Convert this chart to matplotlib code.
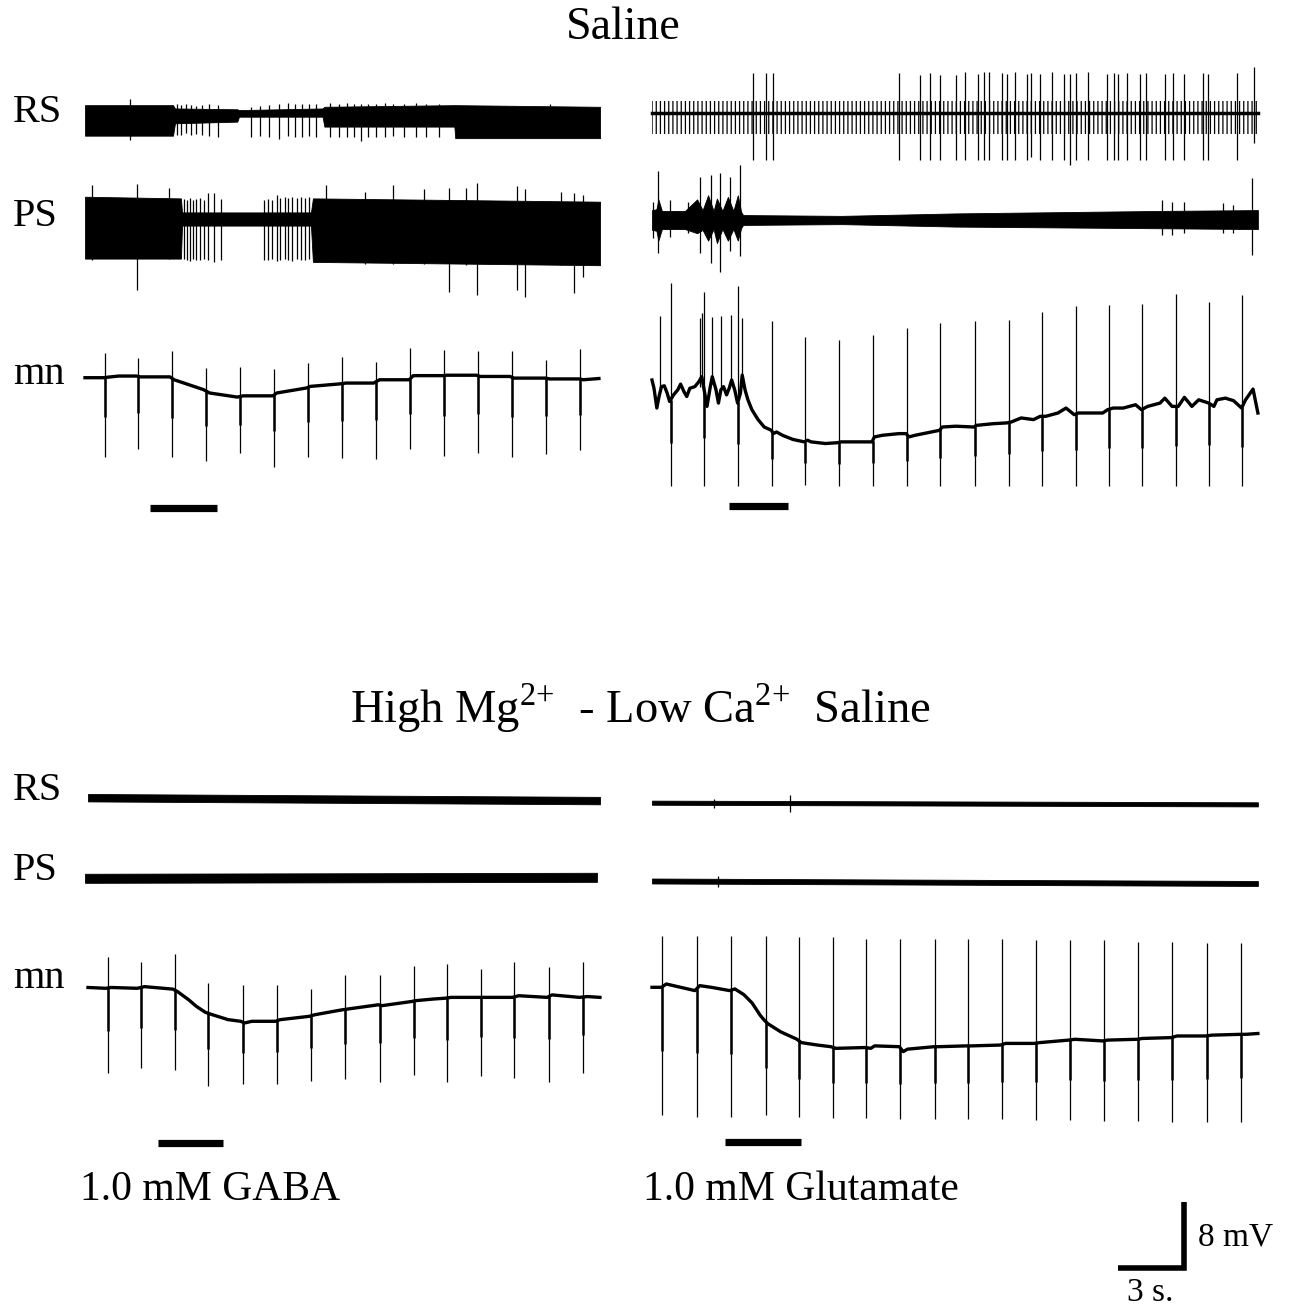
import numpy as np
import matplotlib
matplotlib.use("Agg")
import matplotlib.pyplot as plt

plt.rcParams['font.family'] = ['Liberation Serif', 'DejaVu Serif']
plt.rcParams['mathtext.fontset'] = 'custom'
plt.rcParams['mathtext.rm'] = 'Liberation Serif'
plt.rcParams['hatch.linewidth'] = 0.9

W, H = 1292, 1310
PX_PER_S = 22.0     # 3 s scale bar ~ 66 px
PX_PER_MV = 8.25    # 8 mV scale bar ~ 66 px

# ---------------- Saline, GABA (top left) ----------------
tl_rs_env_t = [0, 4.00, 4.09, 6.92, 7.00, 10.80, 10.88, 16.79, 16.83, 23.41]
tl_rs_env_up = [1.8, 1.8, 1.4, 1.3, 1.2, 1.4, 1.6, 1.8, 1.8, 1.6]
tl_rs_env_lo = [-1.9, -1.9, -0.4, -0.2, 0.4, 0.4, -0.8, -0.8, -2.2, -2.2]
tl_rs_sp_t = [2.06, 4.18, 4.36, 4.59, 4.83, 5.06, 5.33, 5.65, 6.03, 7.53, 7.94, 8.36, 8.82,
              9.24, 9.56, 9.88, 10.18, 10.48, 11.15, 11.54, 11.89, 12.21, 12.53, 12.88, 13.23,
              13.62, 14.01, 14.50, 15.03, 15.52, 16.09, 21.12]
tl_rs_sp_up = [2.5, 2.0, 1.8, 2.0, 1.8, 1.7, 1.8, 1.9, 1.8, 1.6, 1.7, 1.8, 2.0,
               2.1, 2.0, 2.0, 1.9, 2.0, 2.1, 2.0, 2.1, 2.0, 1.9, 2.0, 2.0,
               2.1, 2.0, 2.0, 2.1, 2.0, 2.0, 2.0]
tl_rs_sp_lo = [-2.4, -1.8, -1.8, -1.6, -1.8, -1.7, -1.8, -1.9, -2.0, -2.0, -1.9, -2.1, -2.3,
               -1.9, -2.1, -2.0, -1.9, -2.1, -2.1, -2.0, -2.1, -2.0, -2.6, -2.1, -2.0,
               -2.1, -1.9, -2.1, -2.0, -2.1, -2.0, -1.8]

tl_ps_env_t = [0, 4.36, 4.41, 10.27, 10.36, 23.41]
tl_ps_env_up = [2.7, 2.5, 0.8, 0.8, 2.5, 2.1]
tl_ps_env_lo = [-4.8, -4.8, -0.8, -0.8, -5.2, -5.6]
tl_ps_sp_t = [0.30, 2.36, 3.83, 4.48, 4.62, 4.76, 4.92, 5.06, 5.24, 5.42, 5.59, 5.86, 6.17,
              8.15, 8.33, 8.50, 8.71, 8.86, 9.07, 9.24, 9.42, 9.65, 9.83, 10.00, 10.18,
              10.97, 12.74, 14.01, 15.42, 16.53, 17.32, 17.82, 19.62, 20.01, 21.65, 22.23, 22.62]
tl_ps_sp_up = [4.1, 4.3, 3.7, 2.4, 2.3, 2.5, 2.3, 2.4, 2.5, 2.3, 3.1, 3.2, 2.4,
               2.3, 2.4, 2.3, 2.9, 2.5, 2.7, 2.6, 2.7, 2.5, 2.7, 2.6, 2.7,
               4.1, 3.3, 4.1, 3.6, 3.7, 3.7, 4.4, 4.0, 3.6, 3.3, 3.1, 2.9]
tl_ps_sp_lo = [-5.0, -8.6, -4.9, -4.9, -5.0, -5.1, -4.9, -5.0, -5.0, -4.9, -5.0, -5.2, -5.0,
               -5.0, -5.0, -4.9, -5.1, -5.0, -4.9, -5.0, -5.1, -4.9, -5.0, -5.0, -4.9,
               -5.2, -5.4, -5.5, -5.5, -8.8, -5.6, -9.2, -8.6, -9.4, -5.6, -9.0, -7.0]

tl_mn_base_t = [0, 0.81, 1.53, 2.34, 2.52, 3.86, 4.05, 5.39, 5.66, 6.92, 7.19, 8.54, 8.72,
                10.06, 10.25, 11.59, 11.86, 13.12, 13.39, 14.74, 14.92, 16.26, 16.45, 17.79,
                17.97, 19.32, 19.50, 20.94, 21.12, 22.47, 22.65, 23.36]
tl_mn_base_v = [0.0, 0.0, 0.2, 0.2, 0.1, 0.1, -0.25, -1.45, -1.85, -2.35, -2.2, -2.2, -1.85,
                -1.25, -1.05, -0.75, -0.65, -0.65, -0.25, -0.25, 0.25, 0.25, 0.3, 0.3,
                0.15, 0.15, -0.05, -0.05, -0.15, -0.15, -0.25, -0.1]
tl_mn_sp_t = [0.90, 2.43, 3.95, 5.50, 7.05, 8.59, 10.12, 11.68, 13.23, 14.79, 16.32, 17.86,
              19.41, 20.95, 22.50]
tl_mn_sp_top = [3.0, 2.4, 3.2, 1.2, 1.3, 1.0, 1.8, 2.5, 1.9, 3.6, 3.3, 3.2, 3.2, 2.1, 3.5]
tl_mn_sp_bot = [-9.6, -8.7, -9.6, -10.1, -9.1, -10.8, -9.6, -9.7, -9.8, -8.6, -9.5, -9.1,
                -9.6, -9.2, -8.8]
tl_stim = (2.96, 6.00)

# ---------------- Saline, glutamate (top right) ----------------
tr_rs_env_t = [0, 27.54]
tr_rs_env_up = [1.5, 1.5]
tr_rs_env_lo = [-2.5, -2.5]
tr_rs_sp_t = [4.60, 5.16, 5.51, 11.22, 12.18, 12.65, 13.07, 13.82, 14.22, 14.84, 15.11, 15.30,
              15.89, 16.13, 16.50, 17.06, 17.21, 17.62, 18.17, 18.73, 19.01, 19.29, 19.84,
              20.68, 21.01, 21.20, 21.60, 22.16, 22.44, 23.31, 23.68, 24.16, 25.04, 25.28,
              26.61, 27.35]
tr_rs_sp_up = [4.9, 4.9, 4.9, 4.9, 4.7, 4.9, 4.7, 4.7, 5.0, 4.8, 5.0, 5.0,
               4.9, 4.8, 5.0, 4.8, 4.9, 4.8, 5.0, 4.8, 4.8, 4.9, 5.0,
               4.8, 4.9, 4.8, 4.9, 4.8, 4.9, 4.8, 4.9, 4.8, 4.9, 4.8,
               4.9, 5.6]
tr_rs_sp_lo = [-5.7, -5.7, -5.7, -5.7, -5.7, -5.7, -5.7, -5.7, -5.7, -5.7, -5.7, -5.7,
               -5.7, -5.7, -5.7, -5.7, -5.3, -5.7, -5.7, -5.7, -6.3, -5.7, -5.7,
               -5.7, -5.7, -5.7, -5.7, -5.7, -5.7, -5.7, -5.7, -5.7, -5.7, -5.7,
               -5.7, -3.6]

tr_ps_env_t = [0, 0.20, 0.29, 0.45, 1.50, 2.05, 2.30, 2.55, 2.80, 2.95, 3.20, 3.45, 3.70,
               3.90, 4.05, 4.14, 8.62, 13.82, 23.09, 27.54]
tr_ps_env_up = [1.2, 1.3, 2.5, 1.1, 1.1, 2.5, 1.2, 3.0, 1.1, 2.6, 1.1, 2.8, 1.1,
                3.0, 1.0, 0.6, 0.5, 0.8, 1.1, 1.2]
tr_ps_env_lo = [-1.2, -1.3, -2.5, -1.1, -1.1, -1.6, -1.2, -2.5, -1.1, -2.8, -1.1, -2.5, -1.1,
                -2.5, -1.0, -0.6, -0.5, -0.8, -1.0, -1.1]
tr_ps_sp_t = [0.05, 0.29, 0.82, 1.65, 2.18, 2.67, 3.09, 3.55, 4.00, 23.18, 23.64, 24.16,
              25.96, 26.43, 27.26]
tr_ps_sp_up = [2.2, 5.9, 2.4, 2.2, 5.2, 5.5, 5.7, 5.2, 6.7, 2.4, 2.2, 2.2, 2.1, 1.8, 5.1]
tr_ps_sp_lo = [-2.2, -4.0, -2.0, -1.6, -4.0, -5.2, -6.3, -3.8, -4.4, -1.8, -1.8, -1.6,
               -1.6, -1.6, -4.2]

tr_mn_base_t = [0.00, 0.09, 0.22, 0.32, 0.43, 0.56, 0.69, 0.80, 0.98, 1.17, 1.30, 1.45, 1.58,
                1.72, 1.95, 2.13, 2.26, 2.37, 2.50, 2.65, 2.74, 2.91, 3.02, 3.13, 3.25, 3.39,
                3.51, 3.62, 3.76, 3.89, 4.02, 4.10, 4.23, 4.36, 4.54, 4.82, 5.10, 5.43, 5.51,
                5.66, 5.93, 6.40, 6.92, 7.07, 7.23, 7.88, 8.44, 8.59, 8.99, 10.00, 10.11,
                10.48, 11.22, 11.55, 11.68, 11.96, 12.70, 13.07, 13.19, 13.82, 14.63, 14.74,
                15.49, 16.13, 16.32, 16.78, 17.34, 17.65, 17.90, 18.45, 18.82, 19.19, 19.38,
                19.94, 20.49, 20.71, 20.96, 21.42, 21.98, 22.25, 22.53, 23.09, 23.31, 23.64,
                23.92, 24.20, 24.54, 24.85, 25.31, 25.54, 25.68, 26.06, 26.43, 26.80, 26.98,
                27.32, 27.54]
tr_mn_base_v = [0.0, -1.0, -3.4, -2.0, -0.8, -0.7, -1.6, -2.6, -1.8, -1.2, -0.5, -1.4, -2.0,
                -1.0, -0.8, -0.2, 0.4, -1.2, -3.2, -0.8, 0.4, -1.2, -2.8, -1.2, -0.8, -1.8,
                -1.0, 0.0, -1.2, -2.8, -1.6, 0.6, -1.2, -2.4, -3.6, -4.8, -5.7, -6.1, -6.5,
                -6.3, -6.7, -7.2, -7.5, -7.3, -7.5, -7.7, -7.6, -7.5, -7.5, -7.5, -6.9,
                -6.7, -6.5, -6.5, -6.9, -6.7, -6.3, -6.1, -5.7, -5.6, -5.7, -5.5,
                -5.3, -5.2, -5.1, -4.6, -4.8, -4.4, -4.4, -4.0, -3.4, -4.2, -4.0,
                -4.0, -4.0, -3.6, -3.4, -3.4, -3.0, -3.6, -3.2, -2.8, -2.2, -3.2,
                -3.2, -2.1, -3.2, -2.4, -2.8, -3.2, -2.4, -2.2, -2.5, -3.4, -2.4,
                -1.1, -4.0]
tr_mn_sp_t = [0.37, 0.85, 2.17, 2.28, 2.37, 2.71, 3.15, 3.60, 3.91, 4.10, 5.45, 6.95, 8.48,
              10.03, 11.59, 13.11, 14.67, 16.21, 17.71, 19.25, 20.77, 22.29, 23.83, 25.31, 26.83]
tr_mn_sp_top = [7.8, 11.8, 7.5, 8.1, 10.7, 7.6, 7.7, 7.9, 11.4, 7.5, 7.2, 5.2, 4.8,
                5.5, 6.3, 6.9, 7.1, 7.3, 8.2, 9.0, 9.1, 9.2, 10.4, 9.4, 10.3]
tr_mn_sp_bot = [-1.5, -12.9, -0.8, -0.5, -12.9, -0.5, -1.2, -0.5, -12.9, -0.5, -12.9, -12.7,
                -12.9, -12.9, -12.9, -12.9, -12.9, -12.9, -12.9, -12.9, -12.9, -12.9, -12.9,
                -12.9, -12.9]
tr_stim = (3.49, 6.16)

# ---------------- High Mg / low Ca, GABA (bottom left) ----------------
bl_rs_env_t = [0, 23.27]
bl_rs_env_up = [0.45, 0.1]
bl_rs_env_lo = [-0.45, -0.8]
bl_ps_env_t = [0, 23.27]
bl_ps_env_up = [0.55, 0.67]
bl_ps_env_lo = [-0.55, -0.43]

bl_mn_base_t = [0.00, 0.81, 1.04, 2.24, 2.57, 3.86, 4.07, 4.58, 4.93, 5.33, 5.65, 6.37, 6.94,
                7.12, 7.45, 8.52, 8.74, 10.05, 10.32, 11.57, 11.84, 12.65, 13.19, 13.37, 14.71,
                14.89, 15.70, 16.24, 16.51, 17.77, 18.03, 19.29, 19.58, 20.87, 21.09, 22.34,
                22.70, 23.27]
bl_mn_base_v = [0.1, 0.0, 0.1, 0.0, 0.2, -0.1, -0.4, -1.4, -2.2, -2.9, -3.2, -3.8, -4.0,
                -4.2, -4.0, -4.0, -3.8, -3.4, -3.2, -2.6, -2.5, -2.2, -2.0, -2.1, -1.6,
                -1.5, -1.3, -1.2, -1.1, -1.1, -1.1, -1.1, -0.9, -1.1, -0.8, -1.1,
                -1.0, -1.1]
bl_mn_sp_t = [0.90, 2.42, 3.95, 5.47, 7.03, 8.58, 10.14, 11.68, 13.28, 14.80, 16.33, 17.85,
              19.38, 20.96, 22.49]
bl_mn_sp_top = [3.8, 3.2, 4.2, 0.7, 0.4, 0.4, -0.1, 1.6, 1.6, 2.7, 2.9, 2.4, 3.2, 2.6, 3.2]
bl_mn_sp_bot = [-10.3, -9.7, -9.9, -11.8, -11.6, -11.6, -11.2, -11.0, -11.3, -10.5, -11.4,
                -10.6, -10.9, -11.3, -10.3]
bl_stim = (3.18, 6.14)

# ---------------- High Mg / low Ca, glutamate (bottom right) ----------------
br_rs_env_t = [0, 27.54]
br_rs_env_up = [0.25, 0.05]
br_rs_env_lo = [-0.25, -0.45]
br_rs_sp_t = [2.83, 6.29]
br_rs_sp_up = [0.5, 0.9]
br_rs_sp_lo = [-0.6, -1.1]
br_ps_env_t = [0, 27.54]
br_ps_env_up = [0.3, 0.0]
br_ps_env_lo = [-0.3, -0.6]
br_ps_sp_t = [2.98]
br_ps_sp_up = [0.6]
br_ps_sp_lo = [-0.7]

br_mn_base_t = [0.00, 0.43, 0.65, 1.95, 2.17, 2.69, 3.53, 3.77, 4.18, 4.55, 4.92, 5.11, 5.26,
                5.85, 6.59, 6.78, 7.52, 8.13, 8.36, 9.71, 9.94, 10.12, 11.24, 11.42, 11.61,
                12.82, 13.00, 14.30, 14.54, 15.84, 16.07, 17.37, 17.64, 18.94, 19.22, 20.49,
                20.71, 22.06, 22.29, 23.59, 23.87, 25.17, 25.45, 26.75, 26.99, 27.54]
br_mn_base_v = [0.0, 0.0, 0.4, -0.4, 0.2, 0.0, -0.4, -0.2, -0.9, -1.9, -3.4, -4.0, -4.4,
                -5.4, -6.3, -6.7, -7.0, -7.2, -7.4, -7.3, -7.4, -7.1, -7.2, -7.8, -7.5,
                -7.2, -7.2, -7.1, -7.1, -7.0, -6.8, -6.8, -6.7, -6.4, -6.3, -6.5,
                -6.4, -6.3, -6.2, -6.1, -5.9, -5.9, -5.8, -5.7, -5.7, -5.6]
br_mn_sp_t = [0.46, 2.04, 3.58, 5.16, 6.69, 8.23, 9.75, 11.29, 12.85, 14.38, 15.92, 17.46,
              19.00, 20.56, 22.10, 23.64, 25.22, 26.78]
br_mn_sp_top = [6.2, 6.2, 6.2, 6.2, 6.1, 6.1, 5.9, 5.9, 5.8, 5.8, 5.8, 5.7, 5.7, 5.7, 5.5,
                5.5, 5.4, 5.4]
br_mn_sp_bot = [-15.5, -15.7, -15.7, -15.5, -15.7, -15.9, -15.9, -16.0, -16.0, -16.0, -16.0,
                -16.1, -16.1, -16.2, -16.2, -16.3, -16.3, -16.3]
br_stim = (3.34, 6.78)

SCALE_S = 3
SCALE_MV = 8

fig = plt.figure(figsize=(W / 100, H / 100), dpi=100)


def trace_ax(x0, y0):
    # full-figure transparent axes: t=0 s at pixel x0, 0 mV at pixel y0
    ax = fig.add_axes([0, 0, 1, 1])
    ax.set_xlim(-x0 / PX_PER_S, (W - x0) / PX_PER_S)
    ax.set_ylim(-(H - y0) / PX_PER_MV, y0 / PX_PER_MV)
    ax.axis('off')
    return ax


def draw_band(x0, y0, env_t, env_up, env_lo, sp_t=(), sp_up=(), sp_lo=(), hatch=None, center_lw=0):
    ax = trace_ax(x0, y0)
    if hatch:
        ax.fill_between(env_t, env_lo, env_up, facecolor='none', edgecolor='k', hatch=hatch, lw=0)
    else:
        ax.fill_between(env_t, env_lo, env_up, color='k', lw=0.6)
    if center_lw:
        ax.plot([env_t[0], env_t[-1]], [0, 0], color='k', lw=center_lw)
    if len(sp_t):
        ax.vlines(sp_t, sp_lo, sp_up, color='k', lw=0.9)
    return ax


def draw_mn(x0, y0, base_t, base_v, sp_t, sp_top, sp_bot):
    ax = trace_ax(x0, y0)
    ax.plot(base_t, base_v, color='k', lw=2.4, solid_joinstyle='round')
    local = np.interp(sp_t, base_t, base_v)
    bot = np.array(sp_bot)
    ax.vlines(sp_t, bot, sp_top, color='k', lw=0.9)
    deep = bot < local - 2
    ax.vlines(np.array(sp_t)[deep], (local + 0.5 * (bot - local))[deep], local[deep],
              color='k', lw=1.8)
    return ax


def draw_stim(x0, y_px, stim):
    ax = trace_ax(x0, y_px)
    ax.hlines(0, stim[0], stim[1], color='k', lw=5.2)


# top row
draw_band(85, 120, tl_rs_env_t, tl_rs_env_up, tl_rs_env_lo, tl_rs_sp_t, tl_rs_sp_up, tl_rs_sp_lo)
draw_band(85, 219, tl_ps_env_t, tl_ps_env_up, tl_ps_env_lo, tl_ps_sp_t, tl_ps_sp_up, tl_ps_sp_lo)
draw_mn(85, 377.7, tl_mn_base_t, tl_mn_base_v, tl_mn_sp_t, tl_mn_sp_top, tl_mn_sp_bot)
draw_stim(85, 507.5, tl_stim)

draw_band(652, 113.3, tr_rs_env_t, tr_rs_env_up, tr_rs_env_lo, tr_rs_sp_t, tr_rs_sp_up,
          tr_rs_sp_lo, hatch='||||', center_lw=2.5)
draw_band(652, 220, tr_ps_env_t, tr_ps_env_up, tr_ps_env_lo, tr_ps_sp_t, tr_ps_sp_up, tr_ps_sp_lo)
draw_mn(652, 380, tr_mn_base_t, tr_mn_base_v, tr_mn_sp_t, tr_mn_sp_top, tr_mn_sp_bot)
draw_stim(652, 505.5, tr_stim)

# bottom row
draw_band(88, 797.7, bl_rs_env_t, bl_rs_env_up, bl_rs_env_lo)
draw_band(85, 878.3, bl_ps_env_t, bl_ps_env_up, bl_ps_env_lo)
draw_mn(88, 988.3, bl_mn_base_t, bl_mn_base_v, bl_mn_sp_t, bl_mn_sp_top, bl_mn_sp_bot)
draw_stim(88, 1143, bl_stim)

draw_band(652, 802.7, br_rs_env_t, br_rs_env_up, br_rs_env_lo, br_rs_sp_t, br_rs_sp_up, br_rs_sp_lo)
draw_band(652, 881, br_ps_env_t, br_ps_env_up, br_ps_env_lo, br_ps_sp_t, br_ps_sp_up, br_ps_sp_lo)
draw_mn(652, 987.3, br_mn_base_t, br_mn_base_v, br_mn_sp_t, br_mn_sp_top, br_mn_sp_bot)
draw_stim(652, 1142, br_stim)

# scale bar, corner at the lower right
sb = trace_ax(1184, 1268)
sb.plot([-SCALE_S, 0, 0], [0, 0, SCALE_MV], color='k', lw=4.0,
        solid_joinstyle='miter', solid_capstyle='butt')


def ftext(x, y, s, size, ha='left'):
    fig.text(x / W, 1 - y / H, s, fontsize=size, ha=ha, va='center')


ftext(623, 28, 'Saline', 33, ha='center')
ftext(640, 708, r'High Mg$^{2{+}}$  - Low Ca$^{2{+}}$  Saline', 33.5, ha='center')
for lab, y in [('RS', 113), ('PS', 216), ('mn', 374), ('RS', 790), ('PS', 870), ('mn', 979)]:
    ftext(13, y, lab, 29)
ftext(80, 1190, '1.0 mM GABA', 30)
ftext(643, 1190, '1.0 mM Glutamate', 30)
ftext(1198, 1237, '8 mV', 24)
ftext(1127, 1293, '3 s.', 24)

fig.savefig('out.png', dpi=100)
